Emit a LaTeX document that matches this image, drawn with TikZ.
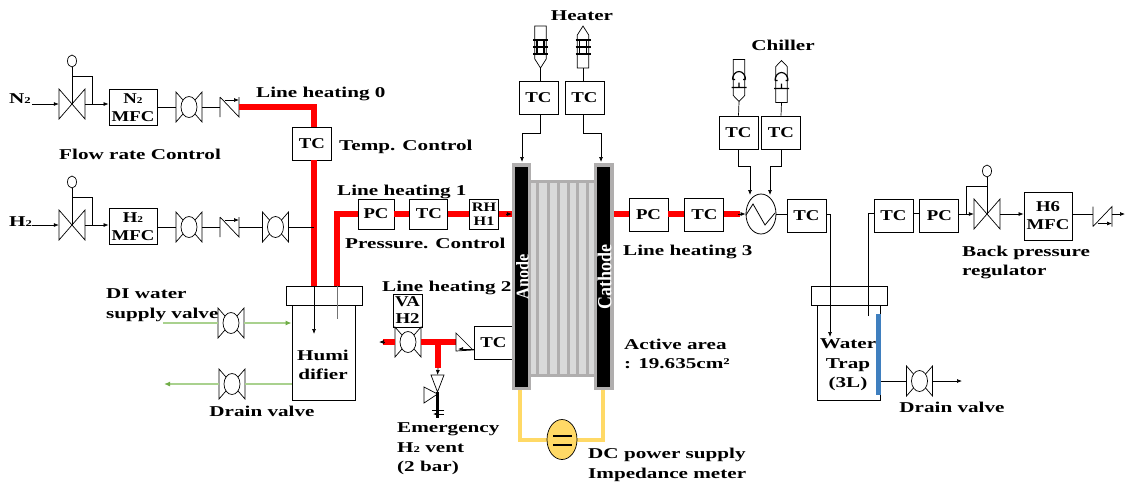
\documentclass[tikz,border=0pt]{standalone}
\usepackage{fontspec}
\setmainfont{Liberation Serif}[FakeStretch=1.41]
\newfontfamily\boxfont{Liberation Serif}[FakeStretch=1.25]
\newfontfamily\stackfont{Liberation Serif}[FakeStretch=0.9]
\newcommand{\subtwo}{\raisebox{-.5pt}{\fontsize{9}{9}\selectfont 2}}
\usetikzlibrary{arrows.meta,positioning,calc,shapes.geometric}
\definecolor{pipered}{HTML}{FF0000}
\definecolor{dcyellow}{HTML}{FFD966}
\definecolor{drgreen}{HTML}{A9D18E}
\definecolor{drtip}{HTML}{70AD47}
\definecolor{trapblue}{HTML}{3F7FBF}
\definecolor{stackgray}{HTML}{B0AEAE}
\tikzset{
    every node/.style={font=\bfseries\fontsize{15}{19.5}\selectfont,inner sep=0pt},
    lbl/.style={anchor=west,align=left,yshift=-1.5pt},
    clbl/.style={align=center,yshift=-1pt},
    tcbox/.style={draw,fill=white,line width=.8pt,minimum width=39pt,minimum height=33pt,font=\boxfont\bfseries\fontsize{15}{18}\selectfont},
    mfcbox/.style={draw,fill=white,line width=.8pt,minimum width=48pt,minimum height=36pt,align=center,font=\boxfont\bfseries\fontsize{15}{18}\selectfont},
    vessel/.style={draw,fill=white,line width=.8pt},
    flow/.style={-{Latex[length=5pt,width=4pt]},line width=.7pt},
    thin line/.style={line width=.7pt},
    red pipe/.style={pipered,line width=6pt},
    green line/.style={drgreen,line width=1.2pt},
    green flow/.style={green line,-{Latex[length=6pt,width=5pt,color=drtip]}},
    yellow line/.style={dcyellow,line width=4.5pt},
    pics/ballvalve/.style={code={
        \node (-c) [minimum width=26pt,minimum height=30pt] {};
        \draw[line width=.7pt] (-13,-15) -- (-13,15) -- (13,-15) -- (13,15) -- cycle;
        \draw[line width=.7pt,fill=white] (0,0) ellipse (8pt and 10.5pt);
    }},
    pics/regvalve/.style={code={
        \node (-c) [minimum width=26pt,minimum height=30pt] {};
        \draw[line width=.7pt] (-13,-15) -- (-13,15) -- (13,-15) -- (13,15) -- cycle;
        \draw[line width=.7pt] (0,0) -- (0,-37);
        \draw[line width=.7pt] (0,-43) ellipse (4.5pt and 6pt);
        \draw[line width=.7pt] (0,-28) -- (#1,-28) -- (#1,0);
    }},
    pics/checkvalve/.style={code={
        \node (-c) [minimum width=19pt,minimum height=20pt] {};
        \draw[line width=.7pt] (-9.5,-10) -- (-9.5,10) (-9.5,-10) -- (9.5,10) -- (9.5,-10);
        \draw[flow] (-5,-7) -- (9.5,-7);
    }},
    pics/heatelem/.style={code={
        \node (-c) [minimum width=12pt,minimum height=42pt] {};
        \draw[line width=.7pt,fill=white] (-5.7,-21) -- (5.7,-21) -- (5.7,12) -- (0,21) -- (-5.7,12) -- cycle;
        \draw[line width=1.2pt] (-7.5,-7) -- (7.5,-7) (-7.5,0) -- (7.5,0) (-7.5,7) -- (7.5,7)
            (-3.5,-8) -- (-3.5,8) (3.5,-8) -- (3.5,8);
    }},
    pics/coolelem/.style={code={
        \node (-c) [minimum width=12pt,minimum height=42pt] {};
        \draw[line width=.7pt,fill=white] (-5.7,-21*#1) -- (5.7,-21*#1) -- (5.7,15*#1) -- (0,21*#1) -- (-5.7,15*#1) -- cycle;
        \draw[line width=1.2pt] (-6.5,-1) arc[start angle=180,end angle=0,x radius=6.5pt,y radius=8pt]
            (-6.5,-1) -- (-4,-1) (6.5,-1) -- (4,-1)
            (-7.5,7) -- (7.5,7) (0,2) -- (0,7);
    }},
}
\begin{document}
\begin{tikzpicture}[x=1pt,y=-1pt,>=Latex]
    \useasboundingbox (0,0) rectangle (1131,483);

    \node[lbl] (n2) at (9,97) {N\subtwo};
    \coordinate (n2in) at (32,104);
    \pic (rn) at (72,104) {regvalve=20};
    \node[mfcbox] (mfcn) at (133,107.5) {N\subtwo\\MFC};
    \pic (bn) at (189,107) {ballvalve};
    \pic (cn) at (229.5,107) {checkvalve};
    \draw[flow] (n2in) -- (rn-c.west);
    \draw[flow] (rn-c.east) -- (mfcn.west |- rn-c.east);
    \draw[thin line] (mfcn.east |- bn-c.west) -- (bn-c.west);
    \draw[thin line] (bn-c.east) -- (cn-c.west);

    \node[lbl] (h2) at (9,220) {H\subtwo};
    \coordinate (h2in) at (32,225);
    \pic (rh) at (72,225) {regvalve=20};
    \node[mfcbox] (mfch) at (133,226.5) {H\subtwo\\MFC};
    \pic (bh) at (189,227) {ballvalve};
    \pic (ch) at (229.5,227) {checkvalve};
    \pic (bi) at (275.5,227) {ballvalve};
    \draw[flow] (h2in) -- (rh-c.west);
    \draw[flow] (rh-c.east) -- (mfch.west |- rh-c.east);
    \draw[thin line] (mfch.east |- bh-c.west) -- (bh-c.west);
    \draw[thin line] (bh-c.east) -- (ch-c.west);
    \draw[thin line] (ch-c.east) -- (bi-c.west);

    \node[lbl] at (59,153) {Flow rate Control};
    \node[lbl] at (256,92) {Line heating 0};
    \node[lbl] at (339,145) {Temp. Control};
    \node[lbl] at (337,190) {Line heating 1};
    \node[lbl] at (345,242) {Pressure. Control};
    \node[lbl] at (382,286) {Line heating 2};
    \node[lbl] at (623,250) {Line heating 3};

    \node[tcbox] (tc0) at (312,143.5) {TC};
    \node[vessel,minimum width=63pt,minimum height=95pt] (hum) at (323.5,352.5) {};
    \node[vessel,minimum width=76pt,minimum height=19pt] (humlid) at (324,295.5) {};
    \coordinate (hp1) at (314,286);
    \coordinate (hp2) at (337,286);
    \node[tcbox,minimum width=36pt,minimum height=30pt] (pc1) at (376,214) {PC};
    \node[tcbox,right=15pt of pc1,minimum width=38pt,minimum height=30pt] (tc1) {TC};
    \node[tcbox,right=21pt of tc1,minimum width=29pt,minimum height=30pt,align=center,font=\boxfont\bfseries\fontsize{13}{14}\selectfont] (rh1) {RH\\H1};

    \draw[red pipe] (cn-c.east) -- (314,107) -- (314,127);
    \draw[red pipe] (314,160) -- (hp1);
    \draw[thin line] (bi-c.east) -- (314,227);
    \draw[red pipe] (hp2) -- (337,214) -- (pc1.west);
    \draw[red pipe] (pc1.east) -- (tc1.west);
    \draw[red pipe] (tc1.east) -- (rh1.west);
    \draw[flow] (hp1) -- (314,334);
    \draw[line width=1pt,black!55] (hp2) -- (337,319);
    \node[clbl] at (323,364) {Humi\\difier};

    \node[lbl] at (106,303.5) {DI water\\supply valve};
    \pic (bd) at (231,323) {ballvalve};
    \pic (be) at (232,384) {ballvalve};
    \coordinate (din) at (163,323);
    \coordinate (dout) at (164,384);
    \draw[green line] (din) -- (bd-c.west);
    \draw[green flow] (bd-c.east) -- (hum.west |- bd-c.east);
    \draw[green line] (hum.west |- be-c.east) -- (be-c.east);
    \draw[green flow] (be-c.west) -- (dout);
    \node[clbl] at (262,410) {Drain valve};

    \node[draw,fill=white,line width=.8pt,minimum width=29pt,minimum height=33pt,align=center,font=\boxfont\bfseries\fontsize{15}{17}\selectfont] (vah) at (407.5,310.5) {VA\\H2};
    \pic (bv) at (408,342) {ballvalve};
    \node[tcbox] (tc2) at (493.5,342.5) {TC};
    \coordinate (vl) at (379,342);
    \coordinate (tj) at (438,342);
    \coordinate (cvr) at (456,342);
    \coordinate (tjd) at (438,368);
    \coordinate (rv) at (437.5,375);
    \coordinate (rvb) at (437.5,418);
    \draw[red pipe] (bv-c.west) -- (383,342);
    \draw[flow] (384,342) -- (vl);
    \draw[red pipe] (bv-c.east) -- (cvr);
    \draw[red pipe] (tj) -- (tjd);
    \draw[line width=.7pt] (456,333) -- (456,351) -- (473,350) -- cycle;
    \draw[flow] (tc2.west |- 0,349) -- (458,349);
    \draw[flow] (tjd) -- (rv);
    \draw[line width=.7pt] (431,375) -- (444,375) -- (437.5,392) -- cycle;
    \draw[line width=.7pt] (424,387) -- (424,403) -- (437.5,394) -- cycle;
    \draw[line width=3pt] (437.5,392) -- (rvb);
    \draw[line width=.7pt] (444,410) -- (432,410);
    \draw[flow] (444,414) -- (433,414);
    \node[lbl] at (397,447.5) {Emergency\\H\subtwo{} vent\\(2 bar)};

    \draw[yellow line] (520,390) -- (520,440) -- (603,440) -- (603,390);
    \node[draw,fill=dcyellow,line width=.7pt,ellipse,minimum width=30pt,minimum height=40pt] (dc) at (562,439.5) {};
    \draw[line width=2pt] (553,436) -- (572,436) (553,445) -- (572,445);
    \node[lbl] at (588,463.5) {DC power supply\\Impedance meter};
    \node[lbl] at (624,352.5) {Active area\\: 19.635cm²};

    \node[fill=stackgray,minimum width=19pt,minimum height=227pt] (ag) at (521.5,276.5) {};
    \node[fill=black,minimum width=13pt,minimum height=220pt] (an) at (521.5,277) {};
    \node[fill=stackgray,minimum width=20pt,minimum height=227pt] (cg) at (604,276.5) {};
    \node[fill=black,minimum width=13pt,minimum height=220pt] (ca) at (603.5,277) {};
    \fill[stackgray] (531,180) rectangle (594,377);
    \fill[black!15] (531,183) rectangle (594,374);
    \foreach \i in {537,548,558,568,577,587} {
        \fill[stackgray] (\i-1.5,183) rectangle (\i+1.5,374);
    }
    \node[white,rotate=90,font=\stackfont\bfseries\fontsize{18}{18}\selectfont] at (522.5,277) {Anode};
    \node[white,rotate=90,font=\stackfont\bfseries\fontsize{20}{20}\selectfont] at (604.5,277) {Cathode};
    \draw[red pipe] (rh1.east) -- (ag.west |- rh1.east);
    \draw[flow] (506,214) -- (ag.west |- rh1.east);
    \draw[red pipe] (cg.east |- 0,214) -- (629,214);

    \node[clbl] at (582,15) {Heater};
    \pic[yscale=1] (he1) at (540.5,47) {heatelem};
    \pic[yscale=-1] (he2) at (583,47) {heatelem};
    \node[tcbox] (tch1) at (538.5,97.5) {TC};
    \node[tcbox] (tch2) at (584.5,97.5) {TC};
    \draw[thin line] (he1-c.south) -- (tch1.north -| he1-c.south);
    \draw[thin line] (he2-c.south) -- (tch2.north -| he2-c.south);
    \draw[flow] (tch1.south -| he1-c.south) -- (540.5,133) -- (522,133) -- (522,162);
    \draw[flow] (tch2.south -| he2-c.south) -- (583,133) -- (601,133) -- (601,162);

    \node[tcbox,minimum height=33pt] (pc3) at (648.5,214.5) {PC};
    \node[tcbox,right=16pt of pc3] (tc3) {TC};
    \node[draw,line width=.8pt,ellipse,minimum width=30pt,minimum height=40pt] (hx) at (761,214) {};
    \node[tcbox] (tc4) at (806.5,215.5) {TC};
    \draw[line width=.8pt] (746,215) -- (753,204) -- (765,225) -- (775,213);
    \draw[red pipe] (pc3.east |- 0,214) -- (tc3.west |- 0,214);
    \draw[red pipe] (tc3.east |- 0,214) -- (740,214);
    \draw[flow] (738,214) -- (hx.west);
    \draw[thin line] (hx.east) -- (tc4.west |- hx.east);

    \node[clbl] at (783,44) {Chiller};
    \pic (co1) at (739,80.5) {coolelem=1};
    \pic (co2) at (781.5,81.5) {coolelem=-1};
    \node[tcbox] (tcc1) at (738.5,132.5) {TC};
    \node[tcbox] (tcc2) at (781,132.5) {TC};
    \draw[thin line] (co1-c.south) -- (tcc1.north);
    \draw[thin line] (co2-c.south) -- (tcc2.north);
    \draw[flow] (tcc1.south) -- (738.5,166) -- (750,166) -- (750,195);
    \draw[flow] (tcc2.south) -- (781,166) -- (770,166) -- (770,195);

    \node[vessel,minimum width=63pt,minimum height=95pt] (trap) at (848.5,352.5) {};
    \node[vessel,minimum width=76pt,minimum height=19pt] (traplid) at (849,295.5) {};
    \fill[trapblue] (876,314) rectangle (881,395);
    \node[clbl] at (848,364) {Water\\Trap\\(3L)};
    \draw[flow] (tc4.east |- 0,214) -- (830,214) -- (830,337);
    \node[tcbox] (tc5) at (893.5,215.5) {TC};
    \node[tcbox,right=6pt of tc5] (pc5) {PC};
    \draw[thin line] (868,316) -- (868,213) -- (tc5.west |- 0,213);
    \draw[thin line] (tc5.east |- 0,213) -- (pc5.west |- 0,213);

    \pic (bt) at (919.5,381) {ballvalve};
    \coordinate (tout) at (962,381);
    \draw[thin line] (881,381) -- (bt-c.west);
    \draw[flow] (bt-c.east) -- (tout);
    \node[clbl] at (952,406) {Drain valve};

    \pic (rb) at (987,214) {regvalve=-21};
    \node[mfcbox,minimum height=48pt] (mfc6) at (1048,216) {H6\\MFC};
    \pic[yscale=-1] (c6) at (1102.5,216.5) {checkvalve};
    \coordinate (eout) at (1125,214);
    \draw[flow] (pc5.east |- 0,214) -- (rb-c.west);
    \draw[flow] (rb-c.east) -- (mfc6.west |- rb-c.east);
    \draw[thin line] (mfc6.east |- 0,214) -- (c6-c.west |- 0,214);
    \draw[flow] (c6-c.east |- 0,214) -- (eout);
    \node[lbl] at (962,261) {Back pressure\\regulator};
\end{tikzpicture}
\end{document}
